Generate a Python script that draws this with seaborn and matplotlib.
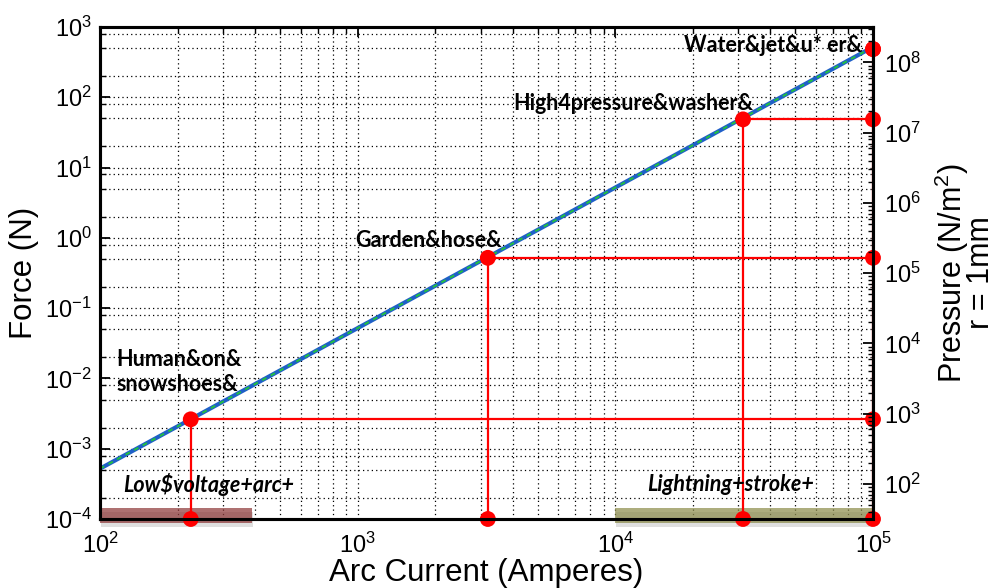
import numpy as np
import pandas as pd
import matplotlib
matplotlib.use("Agg")
import matplotlib.pyplot as plt
import seaborn as sns
from matplotlib.ticker import LogLocator, NullFormatter
from matplotlib.patches import Rectangle
import matplotlib.transforms as mtransforms

# ---- data ----
line_current = [1e2, 1e5]          # Arc current (A)
line_force = [5.2e-4, 5.2e2]       # Force (N)

point_labels = ["Human&on&\nsnowshoes&", "Garden&hose&", "High4pressure&washer&", "Water&jet&u* er&"]
point_current = [225, 3200, 31300, 1e5]
point_force = [2.62e-3, 0.52, 48.5, 485]

low_arc_range = [1e2, 3.9e2]
lightning_range = [1e4, 1e5]

x_ticks = [1e2, 1e3, 1e4, 1e5]
y_ticks = [1e-4, 1e-3, 1e-2, 1e-1, 1e0, 1e1, 1e2, 1e3]
p_ticks = [1e2, 1e3, 1e4, 1e5, 1e6, 1e7, 1e8]
radius_m = 1e-3

sns.set_style("white")
plt.rcParams['font.family'] = ['Liberation Sans', 'DejaVu Sans']
plt.rcParams['mathtext.fontset'] = 'custom'
plt.rcParams['mathtext.rm'] = 'Liberation Sans'
plt.rcParams['mathtext.it'] = 'Liberation Sans:italic'
plt.rcParams['text.color'] = 'black'
plt.rcParams['axes.labelcolor'] = 'black'
plt.rcParams['xtick.color'] = 'black'
plt.rcParams['ytick.color'] = 'black'

fig = plt.figure(figsize=(9.98, 5.88), dpi=100)
ax = fig.add_axes([100/998, 1-519/588, 773/998, 492/588])

ax.set_xscale("log")
ax.set_yscale("log")
ax.set_xlim(1e2, 1e5)
ax.set_ylim(1e-4, 1e3)

# grid
ax.xaxis.set_minor_locator(LogLocator(base=10, subs=np.arange(2, 10)))
ax.yaxis.set_minor_locator(LogLocator(base=10, subs=(2, 5, 8)))
ax.xaxis.set_minor_formatter(NullFormatter())
ax.yaxis.set_minor_formatter(NullFormatter())
ax.grid(which='both', linestyle=(0, (1, 2.5)), color='black', linewidth=0.9)
ax.set_axisbelow(True)

# main line
df = pd.DataFrame({"I": line_current, "F": line_force})
sns.lineplot(data=df, x="I", y="F", ax=ax, color="#1f5fc8", linewidth=3.0, zorder=4)
ax.plot(line_current, line_force, color="#22c040", linewidth=1.4, dashes=(2.5, 2.5), zorder=5)

# red guide lines
for I, F in zip(point_current, point_force):
    ax.plot([I, I], [1e-4, F], color='red', linewidth=1.6, zorder=6, clip_on=False)
    ax.plot([I, 1e5], [F, F], color='red', linewidth=1.6, zorder=6, clip_on=False)

pts = pd.DataFrame({
    "I": point_current + point_current + [1e5]*len(point_current),
    "F": point_force + [1e-4]*len(point_current) + point_force,
})
sns.scatterplot(data=pts, x="I", y="F", ax=ax, color='red', s=130, edgecolor='none',
                zorder=7, clip_on=False)

# range bars
trans = mtransforms.blended_transform_factory(ax.transData, ax.transAxes)
for (x0, x1), col in [(low_arc_range, "#8c3535"), (lightning_range, "#8a8a48")]:
    shadow = Rectangle((x0*1.01, -0.017), x1 - x0, 0.031, transform=trans,
                       facecolor='gray', alpha=0.25, edgecolor='none', clip_on=False, zorder=2)
    ax.add_patch(shadow)
    r = Rectangle((x0, -0.009), x1 - x0, 0.031, transform=trans,
                  facecolor=col, alpha=0.7, edgecolor='none', clip_on=False, zorder=3)
    ax.add_patch(r)

# annotation texts
tf = dict(family=['Lato', 'DejaVu Sans'], fontweight='bold', fontsize=15.5, color='black', zorder=8)
ax.text(116, 0.0123, point_labels[0], ha='left', va='center', linespacing=1.25, **tf)
ax.text(975, 0.93, point_labels[1], ha='left', va='center', **tf)
ax.text(4010, 82.6, point_labels[2], ha='left', va='center', **tf)
ax.text(90600, 550, point_labels[3], ha='right', va='center', **tf)
ax.text(123, 3.05e-4, "Low$voltage+arc+", ha='left', va='center', style='italic', **tf)
ax.text(13270, 3.05e-4, "Lightning+stroke+", ha='left', va='center', style='italic', **tf)

# ticks
ax.set_xticks(x_ticks)
ax.set_xticklabels([f"$10^{{{int(np.log10(v))}}}$" for v in x_ticks])
ax.set_yticks(y_ticks)
ax.set_yticklabels([f"$10^{{{int(np.log10(v))}}}$" for v in y_ticks])
ax.tick_params(which='major', direction='in', length=7, width=1.3, labelsize=17,
               top=True, right=False, pad=6)
ax.tick_params(which='minor', direction='in', length=4, width=1.0, top=True, right=False)
ax.tick_params(axis='x', which='major', pad=10)

ax.set_xlabel("Arc Current (Amperes)", fontsize=22.5, labelpad=0)
ax.set_ylabel("Force (N)", fontsize=22.5, labelpad=4)

for s in ax.spines.values():
    s.set_linewidth(2.2)
    s.set_color('black')

# right pressure axis
area = np.pi * radius_m**2
ax2 = ax.twinx()
ax2.set_yscale('log')
ax2.set_ylim(1e-4/area, 1e3/area)
ax2.set_yticks(p_ticks)
ax2.set_yticklabels([f"$10^{{{int(np.log10(v))}}}$" for v in p_ticks])
ax2.yaxis.set_minor_locator(LogLocator(base=10, subs=np.arange(2, 10)))
ax2.yaxis.set_minor_formatter(NullFormatter())
ax2.tick_params(which='major', direction='in', length=7, width=1.3, labelsize=17, pad=8)
ax2.tick_params(which='minor', direction='in', length=3.5, width=1.0)
ax2.set_ylabel("Pressure (N/m$^2$)\nr = 1mm", fontsize=22, labelpad=8, linespacing=0.8)
for s in ax2.spines.values():
    s.set_linewidth(2.2)
    s.set_color('black')
ax2.grid(False)

fig.savefig("out.png", dpi=100)
